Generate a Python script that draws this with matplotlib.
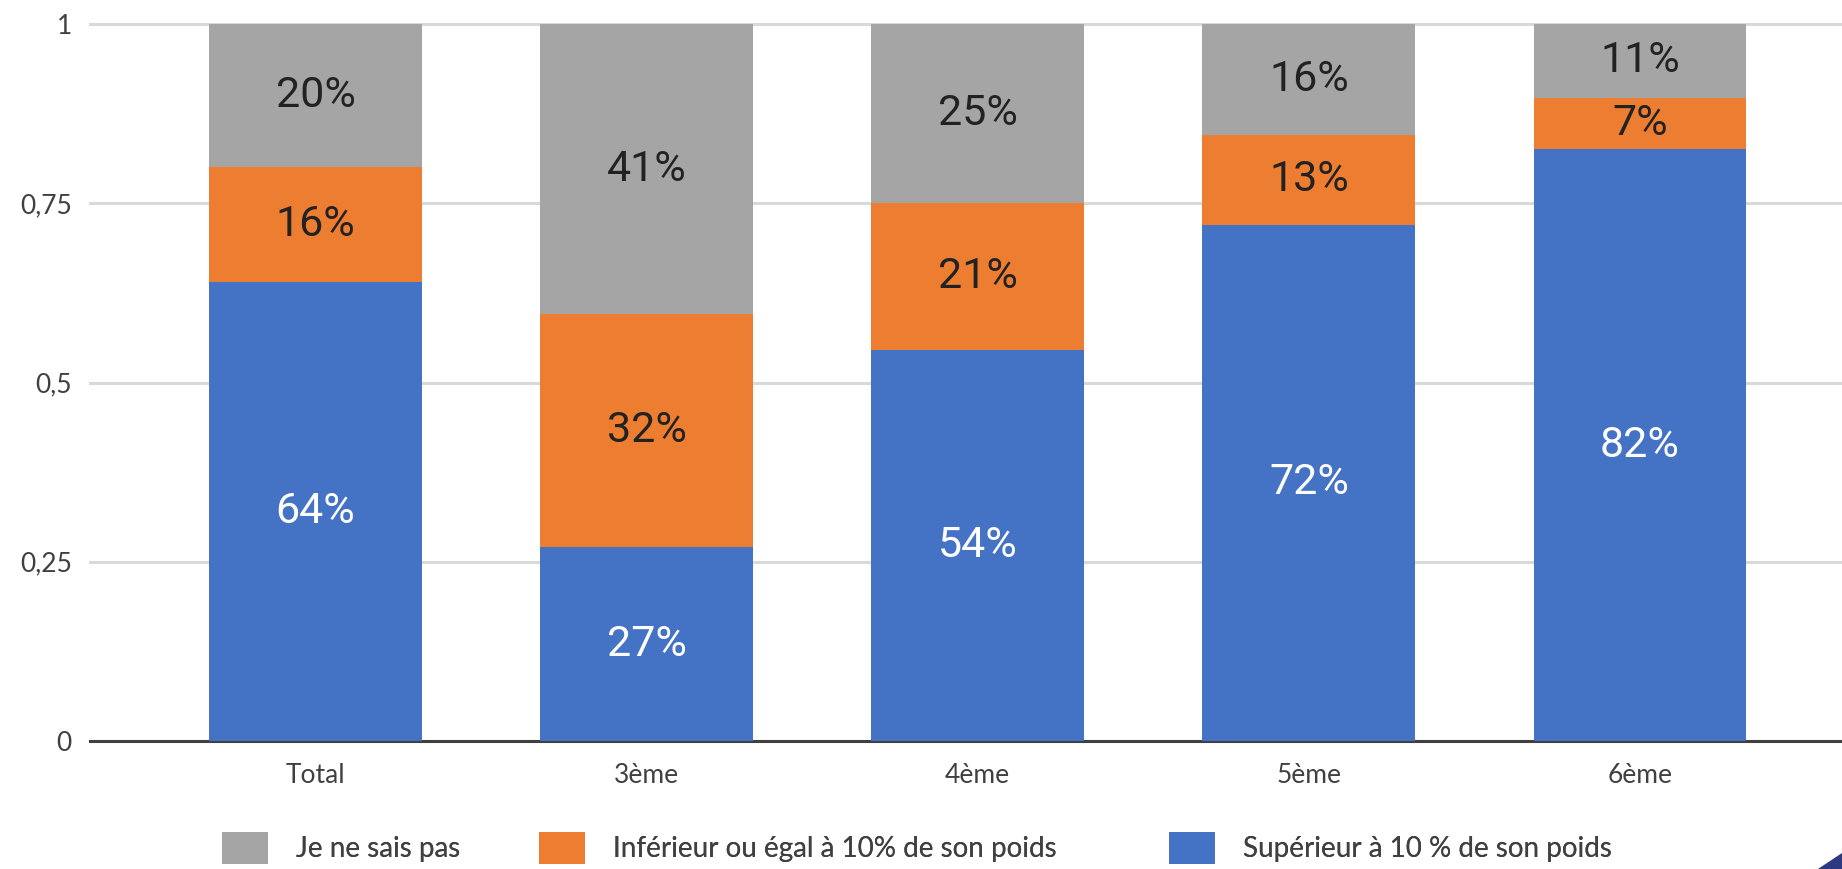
import matplotlib
matplotlib.use("Agg")
import matplotlib.pyplot as plt
from matplotlib.patches import Polygon

# data
categories = ["Total", "3ème", "4ème", "5ème", "6ème"]
sup_10 = [0.64, 0.27, 0.545, 0.72, 0.825]
inf_10 = [0.16, 0.325, 0.205, 0.125, 0.072]
ne_sait_pas = [0.20, 0.405, 0.25, 0.155, 0.103]
sup_labels = ["64%", "27%", "54%", "72%", "82%"]
inf_labels = ["16%", "32%", "21%", "13%", "7%"]
nsp_labels = ["20%", "41%", "25%", "16%", "11%"]
yticks = [0, 0.25, 0.5, 0.75, 1]
ytick_labels = ["0", "0,25", "0,5", "0,75", "1"]

BLUE = "#4472C4"
ORANGE = "#ED7D31"
GREY = "#A5A5A5"

W, H = 1842, 869
fig = plt.figure(figsize=(W / 100, H / 100), dpi=100)
ax = fig.add_axes([90 / W, 1 - 741 / H, 1 - 90 / W, (741 - 24) / H])

x = list(range(len(categories)))
width = 0.643
b1 = ax.bar(x, sup_10, width, color=BLUE, zorder=3, label="Supérieur à 10 % de son poids")
b2 = ax.bar(x, inf_10, width, bottom=sup_10, color=ORANGE, zorder=3,
            label="Inférieur ou égal à 10% de son poids")
bottom3 = [a + b for a, b in zip(sup_10, inf_10)]
b3 = ax.bar(x, [1.0 - b for b in bottom3], width, bottom=bottom3, color=GREY, zorder=3,
            label="Je ne sais pas")

label_font = dict(family="Roboto", fontsize=31, ha="center", va="center", zorder=4)
for i in x:
    ax.text(i, sup_10[i] / 2, sup_labels[i], color="white", **label_font)
    ax.text(i, sup_10[i] + inf_10[i] / 2, inf_labels[i], color="#222222", **label_font)
    ax.text(i, (bottom3[i] + 1.0) / 2, nsp_labels[i], color="#222222", **label_font)

ax.set_xlim(-0.681, 4.61)
ax.set_ylim(0, 1)
ax.set_yticks(yticks)
ax.set_yticklabels(ytick_labels)
ax.set_xticks(x)
ax.set_xticklabels(categories)
ax.tick_params(axis="both", length=0, labelsize=19, labelcolor="#404040")
ax.tick_params(axis="y", pad=13)
ax.tick_params(axis="x", pad=16)
for lab in ax.get_xticklabels() + ax.get_yticklabels():
    lab.set_family("Lato")

for s in ax.spines.values():
    s.set_visible(False)
for t in yticks[1:]:
    ax.axhline(t, color="#D9D9D9", lw=2.2, zorder=1, clip_on=False)
ax.axhline(0, color="#404040", lw=2.2, zorder=2, clip_on=False)

# legend entries sit at fixed spots, like in the source chart
for h, xpos in zip([b3, b2, b1], [222, 539, 1169]):
    leg = fig.legend([h], [h.get_label()], loc="center left",
                     bbox_to_anchor=(xpos / W, 1 - 848 / H), frameon=False, borderpad=0,
                     borderaxespad=0, prop={"family": "Lato", "size": 20},
                     handlelength=1.65, handleheight=1.45, handletextpad=1.0)
    for t in leg.get_texts():
        t.set_color("#404040")
    fig.add_artist(leg)

# corner decoration
fig.patches.append(Polygon([[1818 / W, 0], [1, 0], [1, 16 / H]], closed=True,
                           transform=fig.transFigure, color="#2E3A80"))

fig.savefig("out.png", dpi=100)
